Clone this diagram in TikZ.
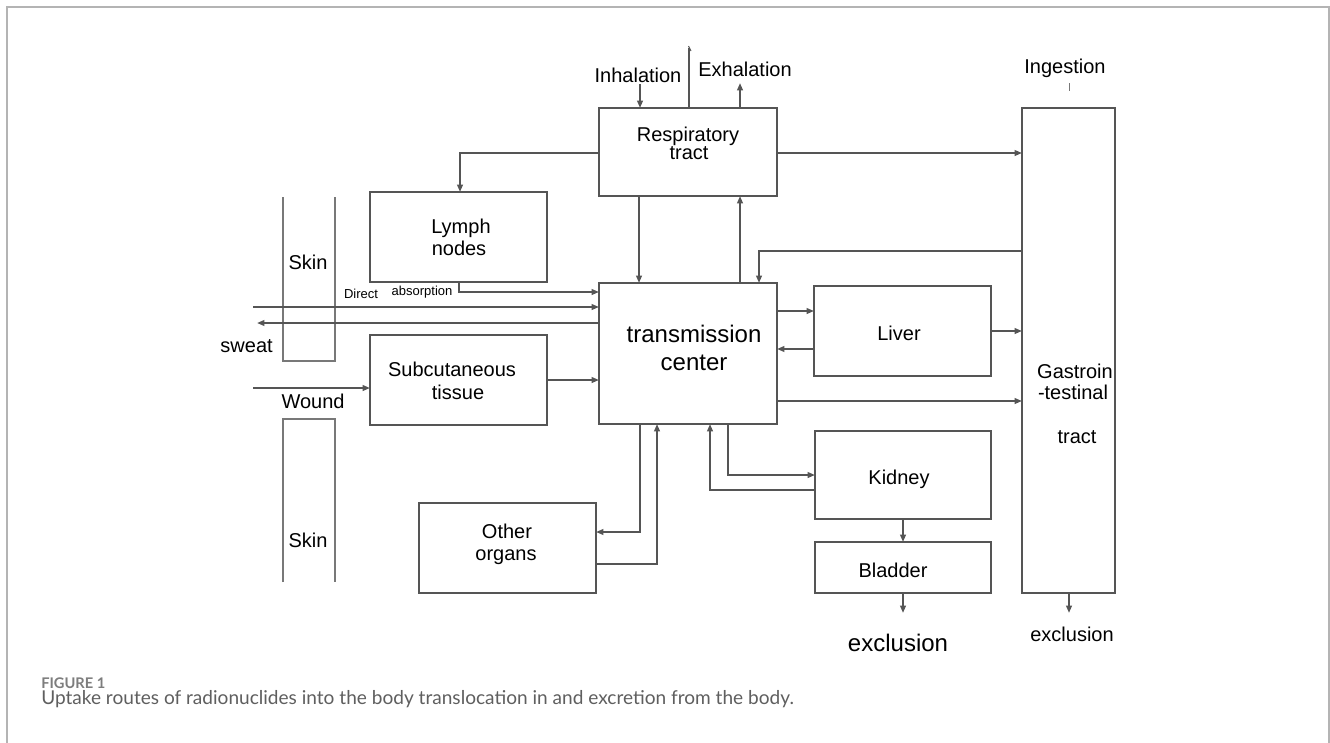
\documentclass[tikz,border=0pt]{standalone}
\usepackage{fontspec}
\setmainfont{Liberation Sans}
\newfontfamily\capfont{Lato}
\usetikzlibrary{arrows.meta}
\newdimen\px \px=0.75pt
\definecolor{ink}{RGB}{85,85,85}
\definecolor{skinc}{RGB}{120,120,120}
\definecolor{framec}{RGB}{180,180,180}
\definecolor{capc}{RGB}{95,95,95}
\definecolor{figc}{RGB}{125,125,125}
\begin{document}
\begin{tikzpicture}[x=0.75pt,y=-0.75pt,
  ln/.style={draw=ink, line width=1.4pt},
  arr/.style={ln, -{Triangle[length=5.5pt,width=4.2pt]}},
  box/.style={draw=ink, line width=1.4pt, inner sep=0pt, outer sep=0pt, anchor=north west},
  skin/.style={draw=skinc, line width=1.1pt},
  lbl/.style={inner sep=0pt, anchor=base, font=\fontsize{15}{18}\selectfont, text=black},
  lblbig/.style={lbl, font=\fontsize{18}{21}\selectfont},
  lblsmall/.style={lbl, font=\fontsize{9.75}{11}\selectfont},
]
\useasboundingbox (0,0) rectangle (1330,742);
\fill[white] (0,0) rectangle (1330,742);
\draw[framec, line width=1.5pt] (6.5,750) -- (6.5,7) -- (1329,7) -- (1329,750);

% boxes
\node[box, minimum width=178\px, minimum height=88\px] (resp) at (599,108) {};
\node[box, minimum width=177\px, minimum height=90\px] (lymph) at (370,192) {};
\node[box, minimum width=178\px, minimum height=141\px] (trans) at (599,283) {};
\node[box, minimum width=177\px, minimum height=90\px] (liver) at (814,286) {};
\node[box, minimum width=177\px, minimum height=90\px] (sub) at (370,335) {};
\node[box, minimum width=93\px, minimum height=485\px] (gi) at (1022,108) {};
\node[box, minimum width=176\px, minimum height=88\px] (kidney) at (815,431) {};
\node[box, minimum width=176\px, minimum height=51\px] (bladder) at (815,542) {};
\node[box, minimum width=177\px, minimum height=90\px] (other) at (419,503) {};

% skin strips
\draw[skin] (283,197) -- (283,361) -- (335,361) -- (335,197);
\draw[skin] (283,582) -- (283,419) -- (335,419) -- (335,582);

% free ends
\coordinate (inhS) at (640,84);
\coordinate (exhE) at (740,83);
\coordinate (topE) at (689,48);
\coordinate (ingT) at (1069,83);
\coordinate (dirS) at (253,307);
\coordinate (swE) at (257,323);
\coordinate (wdS) at (253,388);
\coordinate (blE) at (903,613);
\coordinate (giE) at (1069,613);

% connectors
\draw[arr] (inhS) -- (resp.north -| inhS);
\draw[ln] (resp.north -| topE) -- (topE);
\draw[ink, line width=0.8pt] (688.5,46) -- (691,51);
\draw[arr] (resp.north -| exhE) -- (exhE);
\draw[skinc, line width=0.7pt] (ingT) -- (1069,91);
\draw[arr] (resp.east |- 0,153) -- (gi.west |- 0,153);
\draw[arr] (resp.west |- 0,153) -| (lymph.north -| 460,0);
\draw[arr] (lymph.south -| 459,0) |- (trans.west |- 0,292);
\draw[arr] (resp.south -| 639,0) -- (trans.north -| 639,0);
\draw[arr] (trans.north -| 740,0) -- (resp.south -| 740,0);
\draw[arr] (gi.west |- 0,251) -| (trans.north -| 759,0);
\draw[arr] (trans.east |- 0,311) -- (liver.west |- 0,311);
\draw[arr] (liver.west |- 0,349) -- (trans.east |- 0,349);
\draw[arr] (liver.east |- 0,331) -- (gi.west |- 0,331);
\draw[arr] (trans.east |- 0,401) -- (gi.west |- 0,401);
\draw[arr] (dirS) -- (trans.west |- dirS);
\draw[arr] (trans.west |- swE) -- (swE);
\draw[arr] (wdS) -- (sub.west |- wdS);
\draw[arr] (sub.east |- 0,380) -- (trans.west |- 0,380);
\draw[arr] (trans.south -| 640,0) |- (other.east |- 0,532);
\draw[arr] (other.east |- 0,564) -| (trans.south -| 657,0);
\draw[arr] (trans.south -| 728,0) |- (kidney.west |- 0,475);
\draw[arr] (kidney.west |- 0,490) -| (trans.south -| 710,0);
\draw[arr] (kidney.south -| blE) -- (bladder.north -| blE);
\draw[arr] (bladder.south -| blE) -- (blE);
\draw[arr] (gi.south -| giE) -- (giE);

% labels
\node[lbl] (tinh) at (638,83) {Inhalation};
\node[lbl] (texh) at (745,76) {Exhalation};
\node[lbl] (ting) at (1065,74) {Ingestion};
\node[lbl] (tresp1) at (688,141) {Respiratory};
\node[lbl] (tresp2) at (689,159) {tract};
\node[lbl] (tlym1) at (461,233) {Lymph};
\node[lbl] (tlym2) at (459,255) {nodes};
\node[lbl] (tskin1) at (308,269) {Skin};
\node[lblsmall] (tdir) at (361,298) {Direct};
\node[lblsmall] (tabs) at (422,295) {absorption};
\node[lbl, anchor=base east] (tsweat) at (273,352) {sweat};
\node[lbl] (tsub1) at (452,376) {Subcutaneous};
\node[lbl] (tsub2) at (458,399) {tissue};
\node[lbl] (twound) at (313,408) {Wound};
\node[lblbig] (ttr1) at (694,342) {transmission};
\node[lblbig] (ttr2) at (694,370) {center};
\node[lbl] (tliver) at (899,340) {Liver};
\node[lbl] (tgi1) at (1075,378) {Gastroin};
\node[lbl] (tgi2) at (1073,399) {-testinal};
\node[lbl] (tgi3) at (1077,443) {tract};
\node[lbl] (tskin2) at (308,547) {Skin};
\node[lbl] (toth1) at (507,538) {Other};
\node[lbl] (toth2) at (506,560) {organs};
\node[lbl] (tkid) at (899,484) {Kidney};
\node[lbl] (tbla) at (893,577) {Bladder};
\node[lblbig] (texc1) at (898,651) {exclusion};
\node[lbl] (texc2) at (1072,641) {exclusion};

% caption
\node[anchor=base west, inner sep=0pt, font=\capfont\fontsize{11}{14}\selectfont\bfseries, text=figc] (figlbl) at (41,688) {FIGURE 1};
\node[anchor=base west, inner sep=0pt, font=\capfont\fontsize{14.3}{17}\selectfont, text=capc] (caption) at (41,704) {Uptake routes of radionuclides into the body translocation in and excretion from the body.};
\end{tikzpicture}
\end{document}
